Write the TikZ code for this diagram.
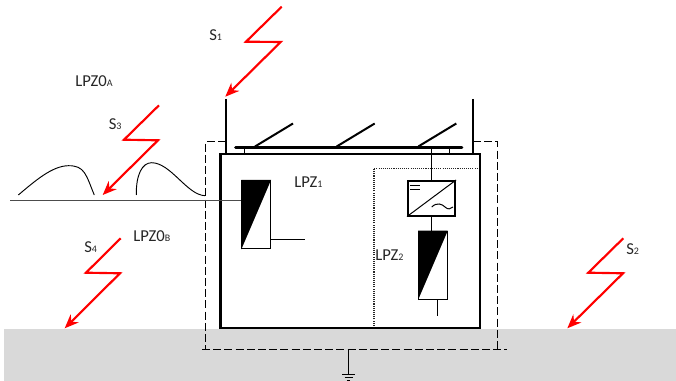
\documentclass[tikz,border=0pt]{standalone}
\usepackage{fontspec}
\setmainfont{Carlito}
\usepackage{xcolor}
\usetikzlibrary{arrows.meta,positioning}
\definecolor{ground}{HTML}{D9D9D9}
\definecolor{ink}{HTML}{262626}
\definecolor{strike}{HTML}{FF0000}
\newcommand{\zonelbl}[2]{#1{\fontsize{7.5}{8}\selectfont #2}}
\tikzset{
  zone/.style={font=\fontsize{12.5}{14}\selectfont,text=ink,inner sep=0pt,anchor=base west},
  bolt/.style={strike,line width=1.6pt,line join=miter,
               -{Stealth[length=10.5pt,width=8.5pt]}},
  wall/.style={black,line width=1.7pt},
  wire/.style={black,line width=0.75pt},
  boundary/.style={black,line width=0.8pt,dash pattern=on 6pt off 2.4pt},
  innerzone/.style={black!85,line width=0.8pt,dash pattern=on 0.8pt off 0.8pt},
  spdbox/.style={draw=black,line width=0.8pt,minimum width=21.5pt,minimum height=51.3pt,
                 inner sep=0pt,anchor=north west},
  convbox/.style={draw=black,line width=1.2pt,minimum width=35.6pt,minimum height=26.2pt,
                  inner sep=0pt,anchor=north west},
}
\begin{document}
\begin{tikzpicture}[x=0.75pt,y=-0.75pt]
  \useasboundingbox (0,0) rectangle (676,381);
  % Soil
  \fill[ground](4,329)rectangle(676,381);
  % Outer zone
  \draw[boundary](226,141.5)--(205.7,141.5)--(205.7,349.3);
  \draw[boundary](473,141.5)--(497.5,141.5)--(497.5,349.3);
  \draw[boundary](202,349.3)--(507,349.3);
  % Inner zone
  \draw[innerzone](374,328)--(374,168.3)--(479,168.3);
  % Building
  \draw[wall](220.5,154)rectangle(479.7,328);
  % Air terminals
  \draw[wall](226.3,99)--(226.3,154);
  \draw[wall](473.3,99)--(473.3,154);
  % Solar panels
  \draw[black,line width=2.2pt,line cap=round](235.5,147.3)--(462,147.3);
  \foreach \x in {244.3,449.3}{
    \draw[wire](\x,147.3)--(\x,154);
  }
  \foreach \x in {255,336.7,418.3}{
    \draw[black,line width=1.5pt](\x,146.5)--++(38,-23);
  }
  % Surge devices and inverter
  \node[spdbox](spdone)at(241.3,180){};
  \fill(spdone.north west)--(spdone.north east)--(spdone.south west)--cycle;
  \node[convbox](conv)at(407,180){};
  \draw[wire](conv.south west)--(conv.north east);
  \draw[wire](410,186)--(420,186);
  \draw[wire](410,190)--(420,190);
  \draw[wire](431.7,207)..controls(437,202)and(442,204)..(445,207)
    ..controls(448,210)and(451,209)..(453,207);
  \node[spdbox](spdtwo)at(418,230.7){};
  \fill(spdtwo.north west)--(spdtwo.north east)--(spdtwo.south west)--cycle;
  % Wires
  \coordinate(lineend)at(10,201);
  \coordinate(spdonein)at(spdone.west|-lineend);
  \coordinate(spdoneout)at(spdone.east|-0,239.5);
  \coordinate(stubone)at(305,239.5);
  \coordinate(feed)at(431.3,147.3);
  \coordinate(convin)at(conv.north-|feed);
  \coordinate(convout)at(conv.south-|feed);
  \coordinate(spdtwoin)at(spdtwo.north-|feed);
  \coordinate(spdtwoout)at(437.3,299.4);
  \coordinate(stubtwo)at(437.3,316);
  \draw[black!70,line width=0.75pt](lineend)--(spdonein);
  \draw[wire](spdoneout)--(stubone);
  \draw[wire](feed)--(convin);
  \draw[wire](convout)--(spdtwoin);
  \draw[wire](spdtwoout)--(stubtwo);
  % Overvoltage waves
  \draw[black,line width=0.7pt](18.3,195)..controls(35,181)and(52,166)..(68.3,165.7)
    ..controls(85,165.5)and(86,175)..(94.3,195);
  \draw[black,line width=0.7pt](136.3,195)..controls(136,175)and(142,162.7)..(151.7,162.7)
    ..controls(171,163)and(187,195)..(205,195.7);
  % Earth
  \coordinate(earthtop)at(348.3,349.3);
  \coordinate(earthend)at(348.3,375);
  \draw[wire](earthtop)--(earthend);
  \draw[wire](342,375)--(355,375);
  \draw[wire](344.5,378)--(352.5,378);
  \draw[wire](346.8,380.5)--(350,380.5);
  % Strikes
  \draw[bolt](281.7,6.7)--(246,41.7)--(280.7,42)--(225.3,96.7);
  \draw[bolt](159,105.3)--(124,139.7)--(158,140.3)--(102.7,195);
  \draw[bolt](120.7,238.3)--(86,272.7)--(120,273.3)--(64.7,328.3);
  \draw[bolt](623.3,238.3)--(588.3,272.7)--(623,273.3)--(567.3,328.3);
  % Labels
  \node[zone](sone)at(209,41){\zonelbl{S}{1}};
  \node[zone](lpza)at(75,87){\zonelbl{LPZ0}{A}};
  \node[zone](sthree)at(108.5,130){\zonelbl{S}{3}};
  \node[zone](lpzone)at(294,188){\zonelbl{LPZ}{1}};
  \node[zone](sfour)at(84,253){\zonelbl{S}{4}};
  \node[zone](lpzb)at(133,242){\zonelbl{LPZ0}{B}};
  \node[zone](lpztwo)at(375,261){\zonelbl{LPZ}{2}};
  \node[zone](stwo)at(626,255){\zonelbl{S}{2}};
\end{tikzpicture}
\end{document}
